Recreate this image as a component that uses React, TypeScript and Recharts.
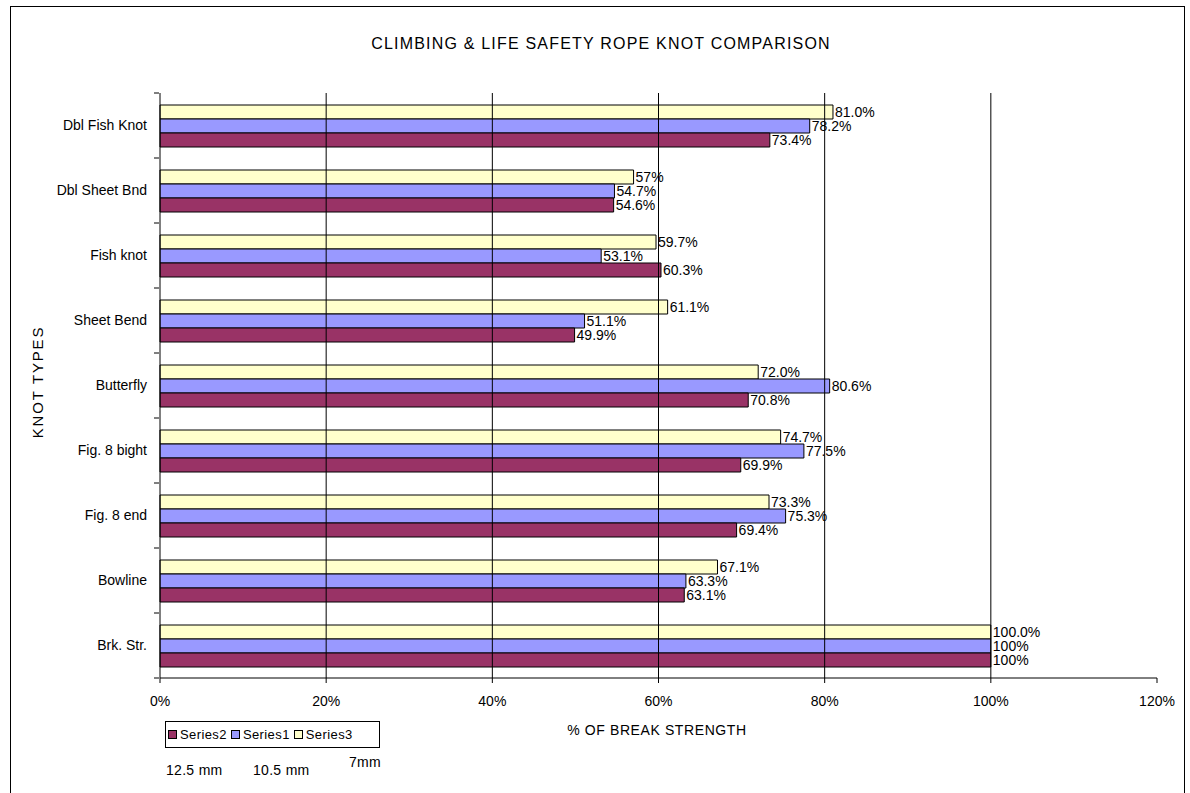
import React from "react";
import {
  BarChart,
  Bar,
  XAxis,
  YAxis,
  ReferenceLine,
  LabelList,
} from "recharts";

// Knot types, listed top to bottom
const knots = [
  "Dbl Fish Knot",
  "Dbl Sheet Bnd",
  "Fish knot",
  "Sheet Bend",
  "Butterfly",
  "Fig. 8 bight",
  "Fig. 8 end",
  "Bowline",
  "Brk. Str.",
];

// % of break strength per rope diameter
const series3 = [81.0, 57, 59.7, 61.1, 72.0, 74.7, 73.3, 67.1, 100.0]; // 7 mm
const series1 = [78.2, 54.7, 53.1, 51.1, 80.6, 77.5, 75.3, 63.3, 100]; // 10.5 mm
const series2 = [73.4, 54.6, 60.3, 49.9, 70.8, 69.9, 69.4, 63.1, 100]; // 12.5 mm

// decimals shown in each value label
const series3Decimals = [1, 0, 1, 1, 1, 1, 1, 1, 1];
const series1Decimals = [1, 1, 1, 1, 1, 1, 1, 1, 0];
const series2Decimals = [1, 1, 1, 1, 1, 1, 1, 1, 0];

const xTicks = [0, 20, 40, 60, 80, 100, 120];
const gridTicks = [20, 40, 60, 80, 100];

const legendItems = [
  { name: "Series2", color: "#993366" },
  { name: "Series1", color: "#9999FF" },
  { name: "Series3", color: "#FFFFCC" },
];
const diameterNotes = ["12.5 mm", "10.5 mm", "7mm"];

const fmt = (v: number, d: number) => `${v.toFixed(d)}%`;

const rows = knots.map((knot, i) => ({
  knot,
  s3: series3[i],
  s1: series1[i],
  s2: series2[i],
  s3Label: fmt(series3[i], series3Decimals[i]),
  s1Label: fmt(series1[i], series1Decimals[i]),
  s2Label: fmt(series2[i], series2Decimals[i]),
}));

const FONT = "'Liberation Sans', Arial, sans-serif";
const W = 1190;
const H = 793;
const PLOT_TOP = 93;
const PLOT_BOTTOM = 678;
const PLOT_LEFT = 160;
const PLOT_RIGHT = 1157;
const Y_AXIS_W = 150;
const X_AXIS_H = 40;
const BAND = (PLOT_BOTTOM - PLOT_TOP) / knots.length;

// Category tick: label at band centre, tick marks on band boundaries
const KnotTick = (props: any) => {
  const { x, y, payload, index } = props;
  const axisX = x + 7;
  return (
    <g>
      <line x1={axisX - 5} x2={axisX} y1={y - BAND / 2} y2={y - BAND / 2} stroke="#000" />
      {index === knots.length - 1 && (
        <line x1={axisX - 5} x2={axisX} y1={y + BAND / 2} y2={y + BAND / 2} stroke="#000" />
      )}
      <text
        x={axisX - 12}
        y={y}
        dy="0.35em"
        textAnchor="end"
        fontSize={14}
        fontFamily={FONT}
        fill="#000"
      >
        {payload.value}
      </text>
    </g>
  );
};

const LegendBox = () => (
  <div
    style={{
      position: "absolute",
      left: 165,
      top: 721,
      display: "flex",
      alignItems: "center",
      border: "1px solid #000",
      height: 27,
      width: 215,
      boxSizing: "border-box",
      paddingLeft: 2,
      fontFamily: FONT,
      fontSize: 13,
      color: "#000",
      background: "#fff",
    }}
  >
    {legendItems.map((it) => (
      <div key={it.name} style={{ display: "flex", alignItems: "center", marginRight: 4 }}>
        <span
          style={{
            display: "inline-block",
            width: 7,
            height: 7,
            background: it.color,
            border: "1px solid #000",
            marginRight: 3,
          }}
        />
        <span style={{ letterSpacing: 0.4 }}>{it.name}</span>
      </div>
    ))}
  </div>
);

export default function App() {
  return (
    <div
      style={{
        position: "absolute",
        left: 0,
        top: 0,
        width: W,
        height: H,
        overflow: "hidden",
        background: "#fff",
        fontFamily: FONT,
      }}
    >
      <div
        style={{
          position: "absolute",
          left: 10,
          top: 6,
          width: 1175,
          height: 820,
          border: "1px solid #000",
          boxSizing: "border-box",
        }}
      />
      <div
        style={{
          position: "absolute",
          left: 6,
          width: W,
          top: 35,
          textAlign: "center",
          fontSize: 16,
          letterSpacing: 1.2,
          color: "#000",
        }}
      >
        CLIMBING &amp; LIFE SAFETY ROPE KNOT COMPARISON
      </div>
      <div
        style={{
          position: "absolute",
          left: 37,
          top: 382,
          transform: "translate(-50%, -50%) rotate(-90deg)",
          whiteSpace: "nowrap",
          fontSize: 15,
          letterSpacing: 1.8,
          color: "#000",
        }}
      >
        KNOT TYPES
      </div>
      <div
        style={{
          position: "absolute",
          left: 657,
          top: 730,
          transform: "translate(-50%, -50%)",
          whiteSpace: "nowrap",
          fontSize: 14,
          letterSpacing: 0.6,
          color: "#000",
        }}
      >
        % OF BREAK STRENGTH
      </div>
      {diameterNotes.map((t, i) => (
        <div
          key={t}
          style={{
            position: "absolute",
            left: [166, 253, 349][i],
            top: [762, 762, 754][i],
            fontSize: 14,
            letterSpacing: 0.3,
            color: "#000",
            whiteSpace: "nowrap",
          }}
        >
          {t}
        </div>
      ))}
      <BarChart
        width={W}
        height={H}
        data={rows}
        layout="vertical"
        barGap={0}
        barSize={14}
        margin={{
          top: PLOT_TOP,
          bottom: H - PLOT_BOTTOM - X_AXIS_H,
          left: PLOT_LEFT - Y_AXIS_W,
          right: W - PLOT_RIGHT,
        }}
        style={{ position: "absolute", left: 0, top: 0 }}
      >
        {gridTicks.map((v) => (
          <ReferenceLine key={v} x={v} stroke="#000" />
        ))}
        <XAxis
          type="number"
          domain={[0, 120]}
          ticks={xTicks}
          tickFormatter={(v: number) => `${v}%`}
          height={X_AXIS_H}
          tickSize={5}
          tickMargin={13}
          stroke="#000"
          tick={{ fill: "#000", fontSize: 14, fontFamily: FONT }}
          interval={0}
        />
        <YAxis
          type="category"
          dataKey="knot"
          width={Y_AXIS_W}
          stroke="#000"
          tickLine={false}
          tick={<KnotTick />}
          interval={0}
        />
        <Bar dataKey="s3" name="Series3" fill="#FFFFCC" stroke="#000" isAnimationActive={false}>
          <LabelList dataKey="s3Label" position="right" offset={2} fill="#000" fontSize={14} fontFamily={FONT} />
        </Bar>
        <Bar dataKey="s1" name="Series1" fill="#9999FF" stroke="#000" isAnimationActive={false}>
          <LabelList dataKey="s1Label" position="right" offset={2} fill="#000" fontSize={14} fontFamily={FONT} />
        </Bar>
        <Bar dataKey="s2" name="Series2" fill="#993366" stroke="#000" isAnimationActive={false}>
          <LabelList dataKey="s2Label" position="right" offset={2} fill="#000" fontSize={14} fontFamily={FONT} />
        </Bar>
      </BarChart>
      <LegendBox />
    </div>
  );
}
